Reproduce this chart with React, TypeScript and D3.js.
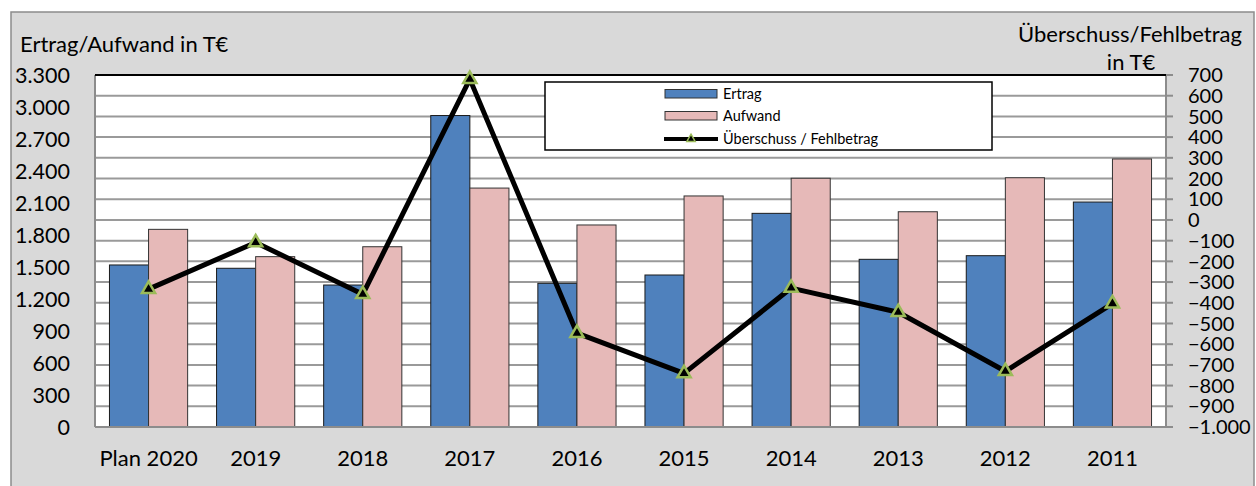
import React from 'react';
import * as d3 from 'd3';

const categories = ['Plan 2020', '2019', '2018', '2017', '2016', '2015', '2014', '2013', '2012', '2011'];
const ertrag = [1519, 1488, 1331, 2920, 1347, 1425, 2003, 1572, 1606, 2109];
const aufwand = [1853, 1597, 1690, 2240, 1894, 2166, 2332, 2018, 2337, 2513];
const saldo = [-334, -109, -359, 680, -547, -741, -329, -446, -731, -404];

const leftTicks = d3.range(0, 3301, 300);
const rightTicks = d3.range(-1000, 701, 100);

const fmt = (v: number) => d3.format(',')(v).replace(/,/g, '.');

const FONT = 'Lato, "Open Sans", sans-serif';

const App: React.FC = () => {
  const width = 1256;
  const height = 486;
  const plot = { left: 95, right: 1166, top: 75, bottom: 427 };

  const x = d3.scaleBand<string>()
    .domain(categories)
    .range([plot.left, plot.right]);

  const inner = d3.scaleBand<string>()
    .domain(['ertrag', 'aufwand'])
    .range([0, x.bandwidth()])
    .paddingOuter(0.37)
    .paddingInner(0);

  const yL = d3.scaleLinear().domain([0, 3300]).range([plot.bottom, plot.top]);
  const yR = d3.scaleLinear().domain([-1000, 700]).range([plot.bottom, plot.top]);

  const line = d3.line<number>()
    .x((_, i) => x(categories[i])! + x.bandwidth() / 2)
    .y(d => yR(d));

  const tri = d3.symbol().type(d3.symbolTriangle).size(75)();

  return (
    <svg width={width} height={height} style={{ position: 'absolute', left: 0, top: 0, background: '#fff' }}
      fontFamily={FONT}>
      <rect x={11} y={12} width={1243} height={490} fill="#d9d9d9" stroke="#8c8c8c" strokeWidth={1.5} />

      {/* plot area */}
      <rect x={plot.left} y={plot.top} width={plot.right - plot.left} height={plot.bottom - plot.top} fill="#fff" />
      {rightTicks.map(t => (
        <line key={t} x1={plot.left} x2={plot.right} y1={yR(t)} y2={yR(t)} stroke="#9a9a9a" strokeWidth={2} />
      ))}
      <line x1={plot.left} x2={plot.left} y1={plot.top} y2={plot.bottom} stroke="#8c8c8c" strokeWidth={2} />
      <line x1={plot.right} x2={plot.right} y1={plot.top} y2={plot.bottom} stroke="#8c8c8c" strokeWidth={2} />
      <line x1={plot.left} x2={plot.right} y1={plot.top} y2={plot.top} stroke="#000" strokeWidth={2} />

      {/* bars */}
      {categories.map((c, i) => (
        <g key={c} transform={`translate(${x(c)},0)`}>
          <rect x={inner('ertrag')} y={yL(ertrag[i])} width={inner.bandwidth()} height={yL(0) - yL(ertrag[i])}
            fill="#4f81bd" stroke="#1a1a1a" strokeWidth={1} />
          <rect x={inner('aufwand')} y={yL(aufwand[i])} width={inner.bandwidth()} height={yL(0) - yL(aufwand[i])}
            fill="#e6b9b8" stroke="#333" strokeWidth={1} />
        </g>
      ))}
      <line x1={plot.left} x2={plot.right} y1={plot.bottom} y2={plot.bottom} stroke="#8c8c8c" strokeWidth={2} />

      {/* line */}
      <path d={line(saldo)!} fill="none" stroke="#000" strokeWidth={5} strokeLinejoin="round" />
      {saldo.map((v, i) => (
        <path key={i} d={tri!} transform={`translate(${x(categories[i])! + x.bandwidth() / 2},${yR(v)})`}
          fill="#000" stroke="#9bbb59" strokeWidth={2.5} />
      ))}

      {/* left axis */}
      {leftTicks.map(t => (
        <text key={t} x={70} y={yL(t)} dy="0.36em" textAnchor="end" fontSize={21.5} fill="#000">{fmt(t)}</text>
      ))}
      <text x={20} y={52} fontSize={22} fill="#000">Ertrag/Aufwand in T€</text>

      {/* right axis */}
      {rightTicks.map(t => (
        <g key={t}>
          <line x1={plot.right} x2={plot.right + 7} y1={yR(t)} y2={yR(t)} stroke="#8c8c8c" strokeWidth={2} />
          <text x={1188} y={yR(t)} dy="0.36em" fontSize={20} fill="#000">{fmt(t)}</text>
        </g>
      ))}
      <text x={1130} y={42} textAnchor="middle" fontSize={22} fill="#000">Überschuss/Fehlbetrag</text>
      <text x={1131} y={70} textAnchor="middle" fontSize={22} fill="#000">in T€</text>

      {/* categories */}
      {categories.map(c => (
        <text key={c} x={x(c)! + x.bandwidth() / 2} y={466} textAnchor="middle" fontSize={22} fill="#000">{c}</text>
      ))}

      {/* legend */}
      <g>
        <rect x={545} y={82} width={447} height={68} fill="#fff" stroke="#000" strokeWidth={1.5} />
        <rect x={665} y={89.5} width={52} height={8.5} fill="#4f81bd" stroke="#333" strokeWidth={1} />
        <text x={723} y={94} dy="0.35em" fontSize={14.5}>Ertrag</text>
        <rect x={665} y={111.5} width={52} height={8.5} fill="#e6b9b8" stroke="#333" strokeWidth={1} />
        <text x={723} y={116} dy="0.35em" fontSize={14.5}>Aufwand</text>
        <line x1={664} x2={718} y1={139} y2={139} stroke="#000" strokeWidth={4} />
        <path d={d3.symbol().type(d3.symbolTriangle).size(30)()!} transform="translate(691,139)"
          fill="#000" stroke="#9bbb59" strokeWidth={1.5} />
        <text x={723} y={139} dy="0.35em" fontSize={14.5}>Überschuss / Fehlbetrag</text>
      </g>
    </svg>
  );
};

export default App;
